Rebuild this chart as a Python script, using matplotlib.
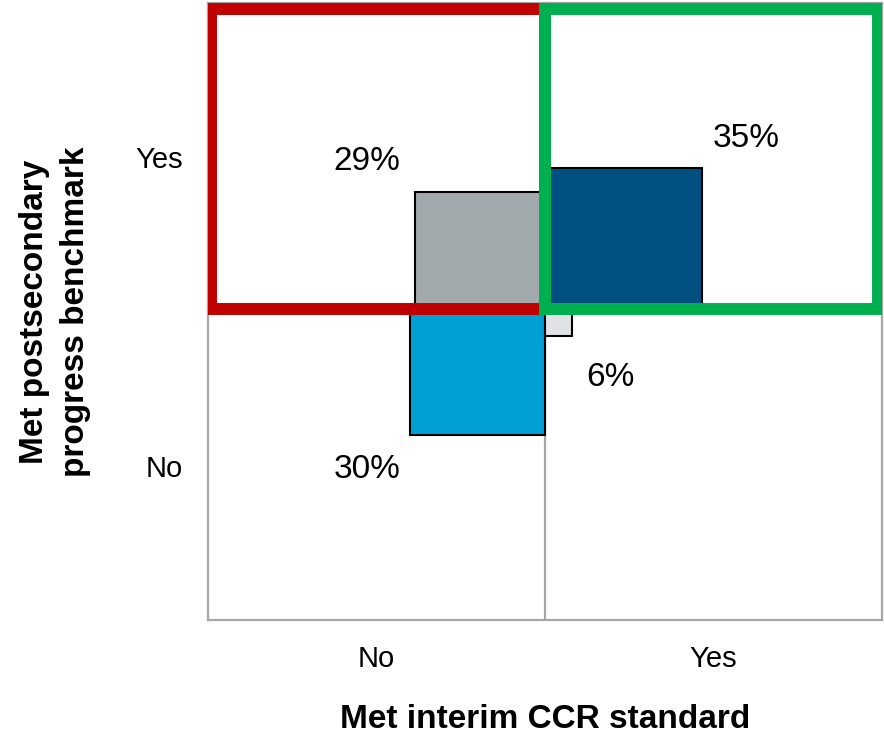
import matplotlib
matplotlib.use("Agg")
import matplotlib.pyplot as plt
from matplotlib.patches import Rectangle

plt.rcParams['font.family'] = ['Liberation Sans', 'DejaVu Sans']

# quadrant data: (x side, y side) -> share of students
ccr_met = ['No', 'Yes', 'No', 'Yes']          # Met interim CCR standard
ps_met = ['Yes', 'Yes', 'No', 'No']           # Met postsecondary progress benchmark
shares = [29, 35, 30, 6]                      # percent
fill_colors = ['#A2A9AD', '#005081', '#009FD6', '#E0E3E6']
tick_labels = ['No', 'Yes']

# label anchor points (data units, quadrant-relative)
label_pos = [(-39.6, 36.4), (44.8, 42.0), (-39.6, -38.3), (14.5, -16.0)]

LIM = 75
fig = plt.figure(figsize=(8.84, 7.36), dpi=100)
ax = fig.add_axes([208/884, 116/736, 674/884, 617/736])
ax.set_xlim(-LIM, LIM)
ax.set_ylim(-LIM, LIM)

ax.axvline(0, color='#a6a6a6', lw=1.6, zorder=0)
ax.axhline(0, color='#a6a6a6', lw=1.6, zorder=0)

for cx, py, s, c, (lx, ly) in zip(ccr_met, ps_met, shares, fill_colors, label_pos):
    sx = 1 if cx == 'Yes' else -1
    sy = 1 if py == 'Yes' else -1
    ax.add_patch(Rectangle((0, 0), sx*s, sy*s, facecolor=c, edgecolor='black',
                           lw=1.5, zorder=2))
    ax.text(lx, ly, f'{s}%', fontsize=24, ha='center', va='center', zorder=4)

# highlight boxes around the "met benchmark" quadrants
ax.add_patch(Rectangle((-74.3, 0.5), 74.3, 73.1, fill=False, edgecolor='#C00000',
                       lw=8.6, zorder=3, joinstyle='miter'))
ax.add_patch(Rectangle((0, 0.5), 74.2, 73.1, fill=False, edgecolor='#00B050',
                       lw=8.6, zorder=3.5, joinstyle='miter'))

ax.set_xticks([-LIM/2, LIM/2])
ax.set_xticklabels(tick_labels, fontsize=21)
ax.set_yticks([-LIM/2, LIM/2])
ax.set_yticklabels(['No', 'Yes'], fontsize=21)
ax.tick_params(length=0, pad=18)

for sp in ax.spines.values():
    sp.set_color('#a6a6a6')
    sp.set_linewidth(1.6)

ax.set_xlabel('Met interim CCR standard', fontsize=24, fontweight='bold', labelpad=22)
ax.set_ylabel('Met postsecondary\nprogress benchmark', fontsize=24, fontweight='bold',
              labelpad=32, linespacing=1.4)

fig.savefig('out.png', dpi=100)
